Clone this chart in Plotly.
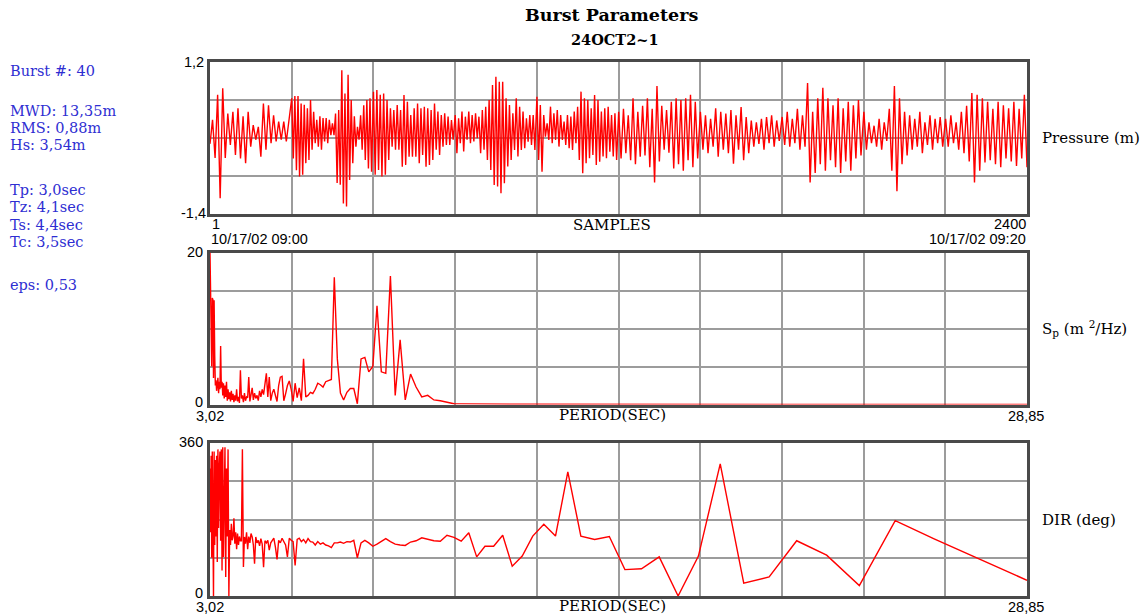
import numpy as np
import plotly.graph_objects as go

W, H = 1141, 615

# ---------------------------------------------------------------------------
# Data
# ---------------------------------------------------------------------------
# Pressure record, 2400 samples, stored as successive crest/trough values
# for each of the ten 240-sample blocks of the record.
pressure_blocks = [
    [-0.2, 0.21, -0.44, 0.64, -1.13, 0.75, -0.44, 0.32, -0.22, 0.35, -0.39, 0.41,
     -0.45, 0.27, -0.53, 0.35, -0.25, 0.12, -0.13, 0.09, -0.42, 0.49, -0.30, 0.46,
     -0.19, 0.29, -0.16, 0.18, -0.13, 0.18, -0.16, 0.21],
    [0.58, -0.45, 0.62, -0.65, 0.62, -0.76, 0.49, -0.73, 0.47, -0.53, 0.41, -0.475,
     0.55, -0.30, 0.35, -0.19, 0.21, -0.25, 0.27, -0.30, 0.24, -0.16, 0.24, -0.19,
     0.21, -0.05, 0.15, -0.05, 0.32, -0.87, 0.38, -0.90, 1.06, -1.22, 0.66, -1.27,
     0.98, -0.82, 0.55, -0.53, 0.27, -0.25, 0.09, -0.13, 0.29, -0.30, 0.46, -0.475,
     0.55, -0.62, 0.58, -0.675],
    [0.69, -0.73, 0.72, -0.646, 0.64, -0.76, 0.66, -0.73, 0.55, -0.475, 0.41, -0.25,
     0.38, -0.30, 0.465, -0.30, 0.38, -0.59, 0.636, -0.56, 0.52, -0.42, 0.294, -0.42,
     0.408, -0.42, 0.49, -0.53, 0.408, -0.39, 0.436, -0.59, 0.408, -0.56, 0.379,
     -0.475, 0.49, -0.30, 0.351, -0.39, 0.294, -0.25, 0.322, -0.22, 0.265, -0.22,
     0.208, -0.13],
    [0.294, -0.36, 0.237, -0.19, 0.351, -0.33, 0.265, -0.13, 0.351, -0.19, 0.294,
     -0.16, 0.322, -0.105, 0.265, -0.36, 0.379, -0.30, 0.436, -0.475, 0.55, -0.646,
     0.807, -0.903, 0.949, -0.931, 0.864, -1.045, 0.864, -0.874, 0.579, -0.589,
     0.465, -0.475, 0.322, -0.304, 0.579, -0.418, 0.436, -0.304, 0.351, -0.276,
     0.237, -0.162, 0.294, -0.219, 0.294, -0.304],
    [0.607, -0.475, 0.465, -0.675, 0.294, -0.076, 0.151, -0.133, 0.436, -0.19, 0.322,
     -0.133, 0.379, -0.247, 0.294, -0.133, 0.18, -0.219, 0.294, -0.276, 0.265, -0.304,
     0.351, -0.19, 0.436, -0.475, 0.693, -0.703, 0.579, -0.532, 0.55, -0.447, 0.408,
     -0.39, 0.636, -0.561, 0.55, -0.504, 0.351, -0.418, 0.408, -0.447, 0.436, -0.333,
     0.294, -0.418, 0.322, -0.475],
    [0.35, -0.45, 0.40, -0.36, 0.29, -0.48, 0.58, -0.55, 0.35, -0.42, 0.45, -0.40,
     0.58, -0.60, 0.40, -0.86, 0.79, -0.50, 0.45, -0.30, 0.38, -0.35, 0.52, -0.62,
     0.58, -0.55, 0.55, -0.66, 0.58, -0.48, 0.64, -0.60, 0.52, -0.45],
    [0.35, -0.30, 0.29, -0.36, 0.23, -0.25, 0.41, -0.42, 0.35, -0.30, 0.32, -0.36,
     0.38, -0.54, 0.29, -0.30, 0.43, -0.48, 0.26, -0.36, 0.20, -0.25, 0.17, -0.20,
     0.23, -0.30, 0.26, -0.19, 0.29, -0.25, 0.20, -0.15],
    [0.26, -0.22, 0.35, -0.25, 0.23, -0.19, 0.40, -0.30, 0.29, -0.25, 0.84, -0.86,
     0.35, -0.70, 0.58, -0.55, 0.76, -0.66, 0.58, -0.48, 0.46, -0.60, 0.58, -0.70,
     0.41, -0.50, 0.52, -0.66, 0.46, -0.45, 0.55, -0.40],
    [0.35, -0.30, 0.17, -0.19, 0.11, -0.25, 0.23, -0.30, 0.17, -0.15, 0.40, -0.66,
     0.79, -1.01, 0.58, -0.55, 0.35, -0.40, 0.29, -0.30, 0.23, -0.25, 0.35, -0.36,
     0.17, -0.22, 0.29, -0.30, 0.23, -0.19, 0.26, -0.25],
    [0.23, -0.25, 0.29, -0.19, 0.17, -0.30, 0.35, -0.36, 0.45, -0.50, 0.67, -0.86,
     0.64, -0.66, 0.58, -0.52, 0.52, -0.48, 0.40, -0.55, 0.52, -0.60, 0.46, -0.45,
     0.41, -0.50, 0.52, -0.58, 0.40, -0.45, 0.64, -0.60],
]
samples_per_block = 240
n_samples = 2400

# Spectral estimates on the analysis frequency bins (shortest period first)
freq_hz = np.linspace(1 / 3.02, 1 / 28.85, 153)
period_s = 1.0 / freq_hz

spectrum_sp = [
    20, 14.2, 14.0, 5.0, 14.0, 13.8, 3.5, 13.7, 6.5, 2.5,
    3.2, 1.8, 2.5, 3.5, 1.5, 3.0, 2.0, 7.7, 2.2, 3.0,
    1.2, 2.8, 0.8, 2.5, 1.0, 3.0, 0.5, 2.0, 0.7, 1.6,
    0.4, 1.8, 0.6, 1.4, 0.3, 1.2, 0.5, 2.0, 0.4, 1.0,
    0.2, 4.5, 0.8, 1.2, 0.3, 1.5, 0.5, 1.0, 0.9, 3.6,
    0.4, 1.2, 2.2, 0.6, 1.5, 0.8, 1.2, 0.5, 1.8, 1.0,
    2.0, 1.3, 2.5, 4.1, 1.0, 3.6, 0.5, 1.5, 2.0, 1.0,
    0.4, 2.5, 3.6, 3.7, 0.5, 1.4, 2.5, 3.1, 2.0, 0.4,
    2.8, 0.9, 2.2, 0.5, 6.0, 1.0, 1.2, 1.6, 1.45, 2.0,
    2.8, 2.6, 2.3, 3.0, 3.2, 3.3, 16.75, 6.0, 1.5, 0.6,
    1.6, 2.1, 2.1, 0.1, 6.0, 6.2, 4.3, 5.0, 13.0, 4.3,
    4.1, 16.9, 1.2, 8.5, 0.6, 4.0, 2.3, 1.0, 1.2, 0.6,
    0.5, 0.35, 0.1, 0.08, 0.06, 0.05, 0.05, 0.04, 0.04, 0.03,
    0.03, 0.03, 0.03, 0.02, 0.02, 0.02, 0.02, 0.02, 0.02, 0.02,
    0.02, 0.02, 0.02, 0.01, 0.01, 0.01, 0.01, 0.01, 0.01, 0.01,
    0.01, 0.01, 0.01,
]

direction_deg = [
    300, 150, 330, 90, 340, 200, 0, 340, 120, 320,
    140, 330, 80, 345, 160, 300, 340, 130, 345, 60,
    350, 92, 330, 350, 45, 300, 140, 345, 0, 155,
    120, 170, 131, 140, 183, 123, 150, 110, 147, 120,
    140, 130, 130, 345, 68, 139, 123, 150, 110, 140,
    125, 147, 139, 120, 76, 139, 125, 131, 118, 135,
    122, 68, 130, 125, 131, 108, 125, 130, 136, 115,
    86, 131, 125, 136, 128, 120, 92, 136, 131, 128,
    72, 133, 136, 128, 133, 125, 135, 128, 127, 120,
    128, 122, 125, 120, 118, 114, 125, 125, 127, 124,
    128, 127, 131, 90, 125, 131, 125, 117, 122, 128,
    135, 128, 122, 120, 119, 127, 130, 137, 133, 130,
    129, 143, 138, 129, 149, 92, 117, 117, 143, 70,
    94, 141, 169, 141, 292, 141, 133, 140, 62, 64,
    92, 0, 94, 311, 30, 45, 130, 96, 24.5, 177.5,
    134, 88, 37,
]

summary_lines = [
    ("Burst #: 40", 71),
    ("MWD: 13,35m", 111),
    ("RMS: 0,88m", 128),
    ("Hs: 3,54m", 145),
    ("Tp: 3,0sec", 190),
    ("Tz: 4,1sec", 207),
    ("Ts: 4,4sec", 225),
    ("Tc: 3,5sec", 242),
    ("eps: 0,53", 285),
]

# ---------------------------------------------------------------------------
# Layout helpers (pixel -> paper)
# ---------------------------------------------------------------------------
def fx(px):
    return px / W


def fy(py):
    return 1 - py / H


SERIF = "DejaVu Serif"
SANS = "Liberation Sans"
RED = "#ff0000"
GRID = "#9c9c9c"
FRAME = "#4a4a4a"
BLUE = "#2e2ed2"
TICK = 14.5

x_dom = [fx(210), fx(1027)]
panels = {
    "1": [fy(214), fy(62)],
    "2": [fy(404.5), fy(252.5)],
    "3": [fy(596), fy(443)],
}

# Pressure sample positions: each block's extremes spread over its 240 samples
p_x, p_y = [], []
for b, block in enumerate(pressure_blocks):
    start = b * samples_per_block + 1
    stop = (b + 1) * samples_per_block
    xs = np.linspace(start, stop, len(block), endpoint=(b == len(pressure_blocks) - 1))
    p_x.extend(xs.tolist())
    p_y.extend(block)

fig = go.Figure()
fig.add_trace(go.Scatter(x=p_x, y=p_y, mode="lines", xaxis="x", yaxis="y",
                         line=dict(color=RED, width=1.4), hoverinfo="skip"))
fig.add_trace(go.Scatter(x=period_s, y=spectrum_sp, mode="lines", xaxis="x2", yaxis="y2",
                         line=dict(color=RED, width=1.4), hoverinfo="skip"))
fig.add_trace(go.Scatter(x=period_s, y=direction_deg, mode="lines", xaxis="x3", yaxis="y3",
                         line=dict(color=RED, width=1.4), hoverinfo="skip"))


def axis_common():
    return dict(showgrid=True, gridcolor=GRID, gridwidth=1.8, zeroline=False,
                showline=True, mirror=True, linecolor=FRAME, linewidth=2.5,
                ticks="", showticklabels=False, tickmode="linear", layer="below traces")


layout = dict(
    width=W, height=H, margin=dict(l=0, r=0, t=0, b=0),
    paper_bgcolor="white", plot_bgcolor="white", showlegend=False,
)
x_specs = {
    "1": dict(range=[1, n_samples], tick0=1, dtick=(n_samples - 1) / 10),
    "2": dict(range=[3.02, 28.85], tick0=3.02, dtick=(28.85 - 3.02) / 10),
    "3": dict(range=[3.02, 28.85], tick0=3.02, dtick=(28.85 - 3.02) / 10),
}
y_specs = {
    "1": dict(range=[-1.4, 1.2], tick0=-1.4, dtick=0.65),
    "2": dict(range=[0, 20], tick0=0, dtick=5),
    "3": dict(range=[0, 360], tick0=0, dtick=90),
}
for k in ["1", "2", "3"]:
    xname = "xaxis" if k == "1" else f"xaxis{k}"
    yname = "yaxis" if k == "1" else f"yaxis{k}"
    yref = "y" if k == "1" else f"y{k}"
    xref = "x" if k == "1" else f"x{k}"
    layout[xname] = dict(domain=x_dom, anchor=yref, **x_specs[k], **axis_common())
    layout[yname] = dict(domain=panels[k], anchor=xref, **y_specs[k], **axis_common())

fig.update_layout(**layout)

ann = []


def text(s, x, y, size, family=SANS, color="black", xanchor="center", yanchor="middle"):
    ann.append(dict(text=s, x=fx(x), y=fy(y), xref="paper", yref="paper",
                    showarrow=False, xanchor=xanchor, yanchor=yanchor,
                    font=dict(family=family, size=size, color=color)))


# Titles
text("<b>Burst Parameters</b>", 611, 15, 17.5, SERIF)
text("<b>24OCT2~1</b>", 615, 39, 14.5, SERIF)

# Summary block
for s, y in summary_lines:
    text(s, 8, y, 14.5, SERIF, BLUE, xanchor="left")

# Pressure panel labels
text("1,2", 206, 62, TICK, xanchor="right")
text("-1,4", 208, 213, TICK, xanchor="right")
text("1", 210, 224.5, TICK, xanchor="left")
text("10/17/02 09:00", 209, 238.5, TICK, xanchor="left")
text("SAMPLES", 612, 225, 15, SERIF)
text("2400", 1028, 224.5, TICK, xanchor="right")
text("10/17/02 09:20", 1028, 238.5, TICK, xanchor="right")
text("Pressure (m)", 1040, 138, 15, SERIF, xanchor="left")

# Spectrum panel labels
text("20", 205, 252, TICK, xanchor="right")
text("0", 205, 402.5, TICK, xanchor="right")
text("3,02", 210, 415.5, TICK)
text("PERIOD(SEC)", 612, 415, 15, SERIF)
text("28,85", 1026, 415.5, TICK)
text("S<sub>p</sub> (m <sup>2</sup>/Hz)", 1040, 328, 15, SERIF, xanchor="left")

# Direction panel labels
text("360", 205, 442, TICK, xanchor="right")
text("0", 205, 592.5, TICK, xanchor="right")
text("3,02", 210, 606.5, TICK)
text("PERIOD(SEC)", 612, 606, 15, SERIF)
text("28,85", 1026, 606.5, TICK)
text("DIR (deg)", 1040, 520, 15, SERIF, xanchor="left")

fig.update_layout(annotations=ann)
fig.write_html("out.html")
